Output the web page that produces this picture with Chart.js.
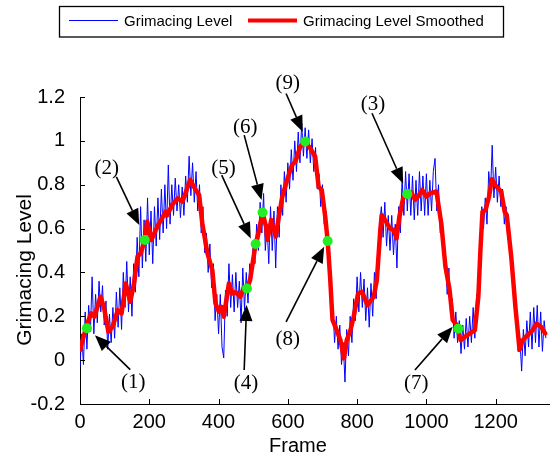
<!DOCTYPE html>
<html><head><meta charset="utf-8">
<script src="https://cdn.jsdelivr.net/npm/chart.js@4.4.1/dist/chart.umd.min.js"></script>
<style>html,body{margin:0;padding:0;background:#fff;}canvas{display:block;}</style>
</head><body>
<canvas id="c" width="554" height="459"></canvas>
<script>
// ---- data ----
const RAW_STEP = 5; // frames between raw samples
const rawLevel = [
-0.03,0.12,-0.02,0.22,0.05,0.25,0.13,0.38,0.12,0.30,0.17,0.36,0.22,0.34,0.16,0.27,0.05,0.21,0.08,0.24,
0.10,0.31,0.15,0.33,0.14,0.40,0.24,0.45,0.22,0.38,0.20,0.44,0.31,0.56,0.38,0.70,0.42,0.64,0.45,0.74,
0.48,0.68,0.44,0.70,0.52,0.74,0.55,0.78,0.58,0.80,0.60,0.89,0.62,0.80,0.66,0.83,0.68,0.80,0.65,0.79,
0.66,0.84,0.72,0.93,0.75,0.90,0.72,0.86,0.68,0.80,0.58,0.70,0.49,0.58,0.40,0.53,0.33,0.44,0.18,0.30,
0.12,0.30,0.06,0.01,0.32,0.20,0.44,0.24,0.39,0.22,0.40,0.24,0.36,0.17,0.42,0.23,0.40,0.26,0.44,0.36,
0.54,0.44,0.62,0.50,0.72,0.58,0.76,0.50,0.62,0.44,0.70,0.50,0.68,0.42,0.70,0.56,0.80,0.66,0.86,0.72,
0.90,0.78,0.96,0.82,1.00,0.86,1.04,0.90,1.08,0.93,1.06,0.92,1.05,0.90,1.01,0.86,0.97,0.78,0.85,0.70,
0.80,0.62,0.68,0.50,0.48,0.24,0.25,0.08,0.20,0.05,0.16,-0.02,0.08,-0.10,0.14,0.02,0.20,0.08,0.28,0.18,
0.38,0.22,0.40,0.24,0.37,0.18,0.33,0.15,0.35,0.20,0.40,0.28,0.50,0.62,0.70,0.56,0.72,0.52,0.66,0.50,
0.66,0.48,0.62,0.42,0.70,0.58,0.83,0.66,0.86,0.68,0.85,0.66,0.84,0.64,0.82,0.66,0.86,0.68,0.84,0.66,
0.85,0.66,0.82,0.68,0.86,0.92,0.68,0.80,0.58,0.60,0.46,0.48,0.30,0.42,0.20,0.28,0.10,0.22,0.08,0.18,
0.03,0.16,0.05,0.19,0.06,0.20,0.08,0.24,0.10,0.30,0.24,0.52,0.70,0.60,0.74,0.62,0.86,0.76,0.98,0.74,
0.88,0.72,0.84,0.70,0.78,0.62,0.70,0.55,0.58,0.44,0.40,0.26,0.22,0.04,0.10,-0.05,0.14,0.02,0.18,0.06,
0.22,0.05,0.24,0.08,0.25,0.06,0.22,0.04,0.18,0.10
];

const smoothFrames = [0,18,32,42,59,69,82,94,109,120,132,145,156,166,175,187,194,206,223,237,247,251,266,282,296,318,334,344,353,368,382,391,401,408,415,430,439,449,463,472,482,491,507,515,527,537,541,552,565,574,584,598,612,622,636,650,665,679,689,698,708,715,722,729,741,752,762,770,781,790,803,814,830,848,857,867,871,881,895,905,914,922,933,945,957,967,976,988,1000,1011,1029,1043,1055,1067,1076,1088,1099,1112,1126,1140,1150,1156,1162,1171,1181,1189,1202,1216,1226,1232,1245,1257,1269,1278,1292,1307,1318,1331,1343];
const smoothLevel = [0.046,0.152,0.214,0.198,0.289,0.243,0.129,0.152,0.228,0.213,0.35,0.266,0.35,0.472,0.487,0.548,0.632,0.548,0.609,0.647,0.677,0.66,0.708,0.738,0.723,0.822,0.776,0.753,0.624,0.487,0.411,0.259,0.221,0.243,0.198,0.35,0.304,0.31,0.289,0.327,0.327,0.365,0.53,0.578,0.673,0.609,0.548,0.639,0.563,0.654,0.746,0.822,0.89,0.906,0.974,0.997,0.966,0.928,0.791,0.776,0.654,0.543,0.38,0.183,0.137,0.091,0.008,0.091,0.137,0.198,0.304,0.312,0.251,0.289,0.365,0.594,0.662,0.639,0.601,0.594,0.556,0.654,0.738,0.758,0.764,0.731,0.746,0.776,0.746,0.761,0.769,0.624,0.426,0.32,0.183,0.16,0.091,0.107,0.122,0.137,0.289,0.502,0.677,0.685,0.746,0.825,0.791,0.769,0.677,0.662,0.472,0.243,0.046,0.091,0.114,0.137,0.167,0.152,0.122];

const keyFrames = [20,187,945,482,507,527,1092,715,650];
const keyLevel  = [0.146,0.548,0.758,0.327,0.53,0.673,0.143,0.543,0.997];

// annotations (data units): label, arrow tip, arrow tail, label centre
const annoLabels    = ['(1)','(2)','(3)','(4)','(5)','(6)','(7)','(8)','(9)'];
const annoTipFrame  = [43,171,933,481,493,524,1076,705,643];
const annoTipLevel  = [0.114,0.616,0.806,0.251,0.555,0.73,0.152,0.517,1.041];
const annoTailFrame = [145,105,843,474,409,474,967,595,595];
const annoTailLevel = [-0.043,0.836,1.126,-0.045,0.844,1.026,-0.045,0.175,1.216];
const annoTextFrame = [154,77,846,479,414,477,971,600,600];
const annoTextLevel = [-0.10,0.876,1.167,-0.105,0.876,1.063,-0.105,0.095,1.263];

const xTickStep = 200, yTickStep = 0.2;
const xMin = 0, xMax = 1354, yMin = -0.2, yMax = 1.2;
const seriesNames = ['Grimacing Level','Grimacing Level Smoothed'];
const xTitle = 'Frame', yTitle = 'Grimacing Level';

// ---- chart ----
const SANS = '"Liberation Sans", Arial, Helvetica, sans-serif';
const SERIF = '"Liberation Serif", "Times New Roman", serif';

const deco = {
  id: 'deco',
  afterDraw(chart) {
    const {ctx, scales: {x, y}, chartArea: a} = chart;
    ctx.save();
    // inward ticks
    ctx.strokeStyle = '#000'; ctx.lineWidth = 1;
    x.ticks.forEach(t => {
      const px = Math.round(x.getPixelForValue(t.value)) + 0.5;
      ctx.beginPath(); ctx.moveTo(px, a.bottom); ctx.lineTo(px, a.bottom - 5); ctx.stroke();
    });
    y.ticks.forEach(t => {
      const py = Math.round(y.getPixelForValue(t.value)) + 0.5;
      ctx.beginPath(); ctx.moveTo(a.left, py); ctx.lineTo(a.left + 5, py); ctx.stroke();
    });
    // annotations
    ctx.fillStyle = '#000'; ctx.strokeStyle = '#000';
    annoLabels.forEach((lab, i) => {
      const tx = x.getPixelForValue(annoTipFrame[i]), ty = y.getPixelForValue(annoTipLevel[i]);
      const sx = x.getPixelForValue(annoTailFrame[i]), sy = y.getPixelForValue(annoTailLevel[i]);
      const ang = Math.atan2(ty - sy, tx - sx);
      const L = 16, W = 6.5;
      const bx = tx - L * Math.cos(ang), by = ty - L * Math.sin(ang);
      ctx.lineWidth = 1.6;
      ctx.beginPath(); ctx.moveTo(sx, sy); ctx.lineTo(bx, by); ctx.stroke();
      ctx.beginPath();
      ctx.moveTo(tx, ty);
      ctx.lineTo(bx + W * Math.sin(ang), by - W * Math.cos(ang));
      ctx.lineTo(bx - W * Math.sin(ang), by + W * Math.cos(ang));
      ctx.closePath(); ctx.fill();
      ctx.font = '21px ' + SERIF;
      ctx.textAlign = 'center'; ctx.textBaseline = 'middle';
      ctx.fillText(lab, x.getPixelForValue(annoTextFrame[i]), y.getPixelForValue(annoTextLevel[i]));
    });
    // axis titles
    ctx.font = '20px ' + SANS; ctx.textAlign = 'center'; ctx.textBaseline = 'middle';
    ctx.fillText(xTitle, 298, 446);
    ctx.save();
    ctx.translate(25, 270); ctx.rotate(-Math.PI / 2);
    ctx.font = '21px ' + SANS;
    ctx.fillText(yTitle, 0, 0);
    ctx.restore();
    // legend
    ctx.fillStyle = '#fff';
    ctx.fillRect(59, 6, 444, 31);
    ctx.lineWidth = 1.3; ctx.strokeStyle = '#000';
    ctx.strokeRect(59.5, 6.5, 444, 30.5);
    ctx.strokeStyle = '#0000ff'; ctx.lineWidth = 1;
    ctx.beginPath(); ctx.moveTo(69, 20.5); ctx.lineTo(118, 20.5); ctx.stroke();
    ctx.strokeStyle = '#ff0000'; ctx.lineWidth = 4;
    ctx.beginPath(); ctx.moveTo(248, 20.5); ctx.lineTo(297, 20.5); ctx.stroke();
    ctx.fillStyle = '#000'; ctx.font = '15px ' + SANS; ctx.textAlign = 'left'; ctx.textBaseline = 'middle';
    ctx.fillText(seriesNames[0], 124, 22);
    ctx.fillText(seriesNames[1], 303, 22);
    ctx.restore();
  }
};

new Chart(document.getElementById('c'), {
  type: 'line',
  data: {
    datasets: [
      {
        label: 'Key frames',
        data: keyFrames.map((f, i) => ({x: f, y: keyLevel[i]})),
        showLine: false, pointRadius: 5, pointBackgroundColor: '#22ee22',
        pointBorderColor: '#22ee22', pointBorderWidth: 0
      },
      {
        label: seriesNames[1],
        data: smoothFrames.map((f, i) => ({x: f, y: smoothLevel[i]})),
        borderColor: '#ff0000', borderWidth: 4.5, pointRadius: 0, tension: 0,
        borderJoinStyle: 'round', borderCapStyle: 'round'
      },
      {
        label: seriesNames[0],
        data: rawLevel.map((v, i) => ({x: i * RAW_STEP, y: v})),
        borderColor: '#0000ff', borderWidth: 1, pointRadius: 0, tension: 0
      }
    ]
  },
  options: {
    responsive: false, animation: false, devicePixelRatio: 1,
    layout: {padding: {top: 97, left: 0, right: 0, bottom: 0}},
    plugins: {legend: {display: false}, tooltip: {enabled: false}},
    scales: {
      x: {
        type: 'linear', min: xMin, max: xMax,
        afterFit(s) { s.height = 55; },
        grid: {display: true, drawOnChartArea: false, drawTicks: false},
        border: {display: true, color: '#000', width: 1},
        ticks: {stepSize: xTickStep, includeBounds: false, color: '#000', padding: 6,
                font: {family: SANS, size: 20}, maxRotation: 0, autoSkip: false,
                callback: v => String(Math.round(v))}
      },
      y: {
        type: 'linear', min: yMin, max: yMax,
        afterFit(s) { s.width = 80; },
        grid: {display: true, drawOnChartArea: false, drawTicks: false},
        border: {display: true, color: '#000', width: 1},
        ticks: {stepSize: yTickStep, includeBounds: false, color: '#000', padding: 15,
                font: {family: SANS, size: 20},
                callback: v => String(Math.round(v * 10) / 10)}
      }
    }
  },
  plugins: [deco]
});
</script>
</body></html>
